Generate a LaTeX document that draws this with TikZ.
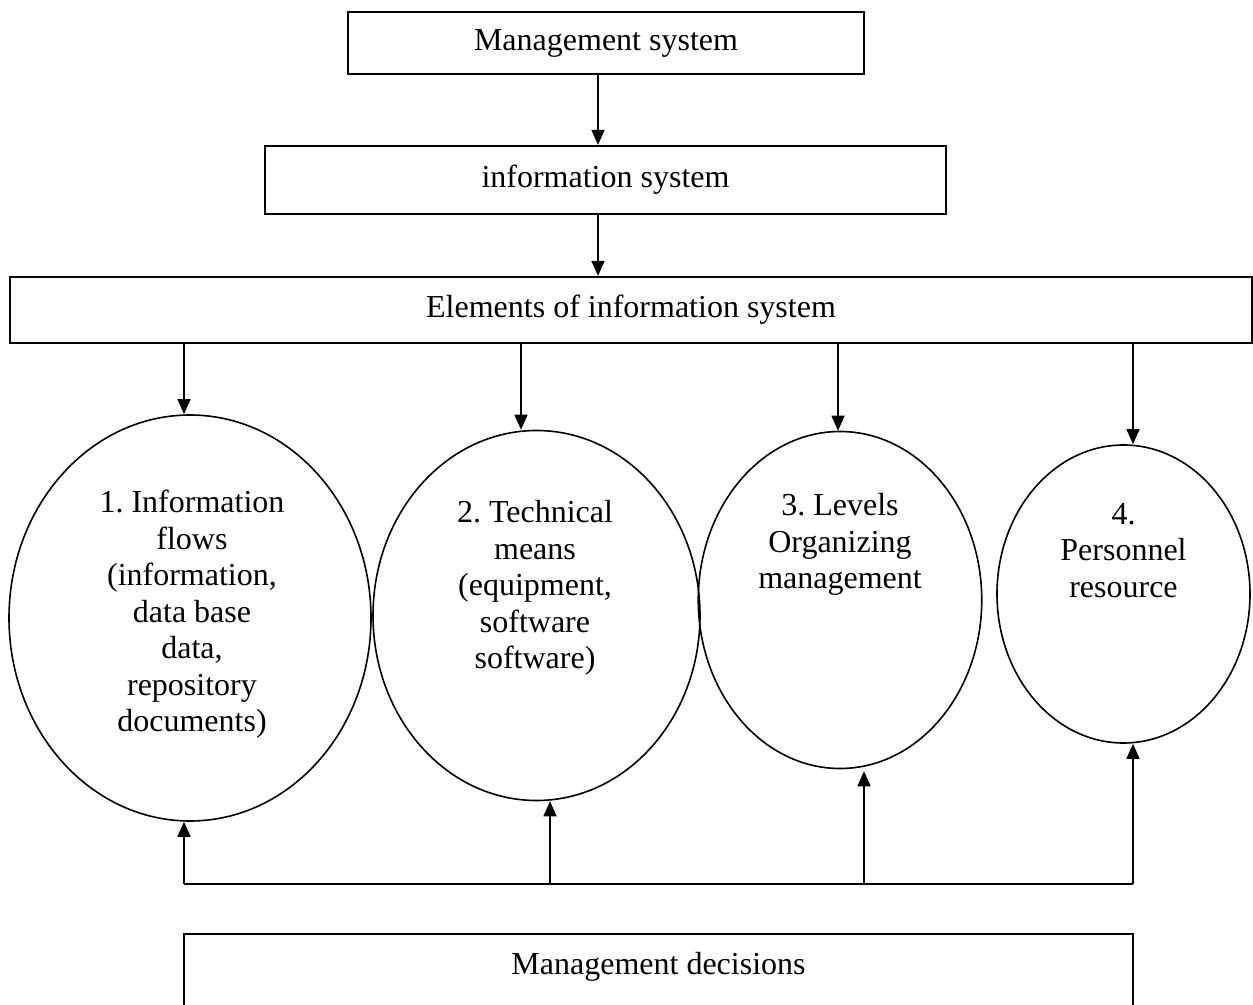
\documentclass[tikz,border=0pt]{standalone}
\usepackage{fontspec}
\setmainfont{Liberation Serif}
\usetikzlibrary{arrows.meta,shapes.geometric}
\frenchspacing
\begin{document}
\begin{tikzpicture}[x=0.5pt,y=-0.5pt,
  txt/.style={font=\fontsize{16}{18.25}\selectfont},
  box/.style={draw, rectangle, line width=1.1pt, inner sep=0pt, txt},
  oval/.style={draw, ellipse, line width=0.8pt, inner sep=0pt},
  lbl/.style={align=center, anchor=north, inner sep=0pt, txt},
  arr/.style={line width=0.75pt, -{Triangle[length=7.5pt,width=6.5pt]}},
  bus/.style={line width=1.1pt}]
\useasboundingbox (0,0) rectangle (1253,1005);
\clip (0,0) rectangle (1253,1005);

% top chain of boxes
\node[box, minimum width=258pt, minimum height=31pt] (b1) at (606,43) {\raisebox{-1pt}{Management system}};
\node[box, minimum width=340.5pt, minimum height=34pt] (b2) at (605.5,180) {information system};
\node[box, minimum width=621pt, minimum height=33pt] (b3) at (631,310) {Elements of information system};

% the four elements
\node[oval, minimum width=181pt, minimum height=203pt] (e1) at (190,618) {};
\node[oval, minimum width=163.5pt, minimum height=185pt] (e2) at (536.5,615.5) {};
\node[oval, minimum width=141.75pt, minimum height=168.5pt] (e3) at (840,600) {};
\node[oval, minimum width=126.5pt, minimum height=149pt] (e4) at (1123.5,594) {};

\node[lbl] (t1) at (192,490) {1. Information\\flows\\(information,\\data base\\data,\\repository\\documents)};
\node[lbl] (t2) at (535,500) {2. Technical\\means\\(equipment,\\software\\software)};
\node[lbl] (t3) at (840,493) {3. Levels\\Organizing\\management};
\node[lbl] (t4) at (1123.5,503) {4.\\Personnel\\resource};

% decisions box, running past the lower edge
\node[box, minimum width=474.5pt, minimum height=45pt, anchor=north] (b4) at (658.5,933) {};
\node[txt, inner sep=0pt] (t5) at (658.5,967) {Management decisions};

% x positions of the vertical connectors
\coordinate (m) at (598,0);
\coordinate (d1) at (184,0);
\coordinate (d2) at (521,0);
\coordinate (d3) at (838,0);
\coordinate (d4) at (1133,0);
\coordinate (u1) at (184,0);
\coordinate (u2) at (550,0);
\coordinate (u3) at (864,0);
\coordinate (u4) at (1133,0);
\coordinate (busy) at (0,884);

\draw[arr] (m |- b1.south) -- (m |- b2.north);
\draw[arr] (m |- b2.south) -- (m |- b3.north);

\draw[arr] (d1 |- b3.south) -- (d1 |- e1.north);
\draw[arr] (d2 |- b3.south) -- (d2 |- e2.north);
\draw[arr] (d3 |- b3.south) -- (d3 |- e3.north);
\draw[arr] (d4 |- b3.south) -- (d4 |- e4.north);

\draw[bus] (u1 |- busy) -- (u4 |- busy);
\draw[arr] (u1 |- busy) -- (u1 |- e1.south);
\draw[arr] (u2 |- busy) -- (u2 |- e2.south);
\draw[arr] (u3 |- busy) -- ([yshift=-1pt]u3 |- e3.south);
\draw[arr] (u4 |- busy) -- (u4 |- e4.south);
\end{tikzpicture}
\end{document}
